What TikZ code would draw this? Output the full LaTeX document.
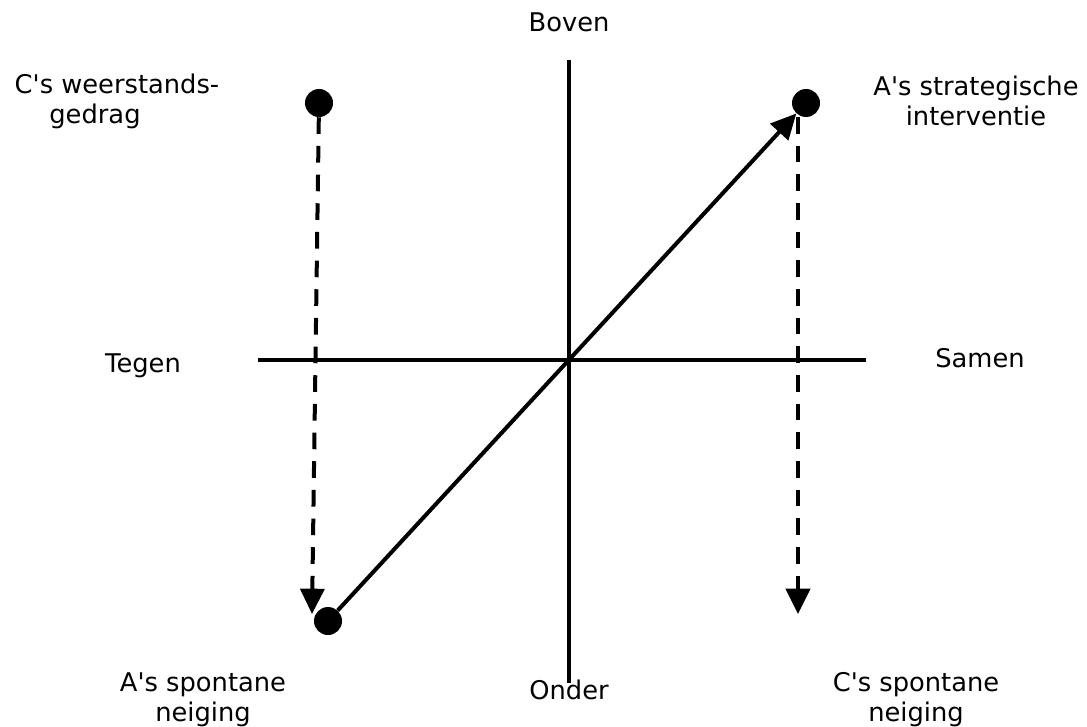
\documentclass[tikz,border=0pt]{standalone}
\usepackage{fontspec}
\setmainfont{DejaVu Sans}
\usetikzlibrary{arrows.meta}

\begin{document}
\begin{tikzpicture}[x=0.75pt, y=-0.75pt,                  % one unit = one pixel
      axis/.style={line width=3pt},                          % the two axes
      dot/.style={circle, fill=black, inner sep=0pt, minimum size=21pt},  % a position
      lbl/.style={align=center, font=\fontsize{19.3}{22.5}\selectfont},   % texts
      arr/.style={line width=3pt, -{Triangle[length=19pt, width=18pt]}},
      darr/.style={arr, dash pattern=on 12.5pt off 9pt}]
    \useasboundingbox (0,0) rectangle (1087,727);
    \coordinate (top)    at (569,60);
    \coordinate (bottom) at (569,683);
    \coordinate (left)   at (258,360);
    \coordinate (right)  at (866,360);
    \draw[axis] (top) -- (bottom);
    \draw[axis] (left) -- (right);
    \node[lbl] (boven) at (569,22)  {Boven};
    \node[lbl] (onder) at (569,690) {Onder};
    \node[lbl] (tegen) at (143,366) {Tegen};
    \node[lbl] (samen) at (980,358) {Samen};
    \node[dot] (cw) at (319,103) {};                         % C's weerstandsgedrag
    \node[dot] (as) at (806,103) {};                         % A's strategische interventie
    \node[dot] (an) at (328,621) {};                         % A's spontane neiging
    \coordinate (cwend) at (312,614);
    \coordinate (cnend) at (798,614);
    \node[lbl] (cwl) at (117,101) {C\textquotesingle s weerstands-\\gedrag\hspace*{33pt}};
    \node[lbl] (asl) at (976,101) {A\textquotesingle s strategische\\interventie};
    \node[lbl] (anl) at (203,700) {A\textquotesingle s spontane\\neiging};
    \node[lbl] (cnl) at (916,700) {C\textquotesingle s spontane\\neiging};
    \draw[darr] (cw) -- (cwend);                             % dashed arrows down
    \draw[darr] (798,117) -- (cnend);
    \draw[arr] (an) -- (as);                                 % the intervention
  \end{tikzpicture}
\end{document}
